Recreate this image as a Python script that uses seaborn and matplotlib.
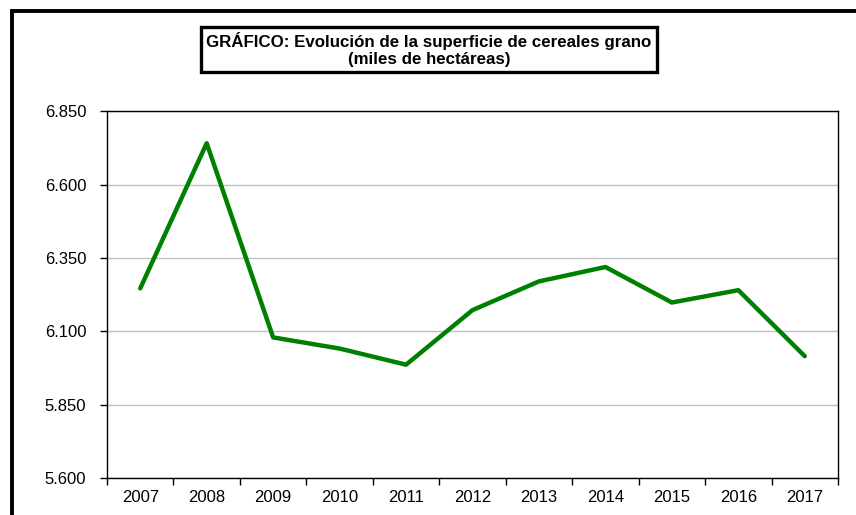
import seaborn as sns
import pandas as pd
import matplotlib.pyplot as plt
from matplotlib.patches import Rectangle
from matplotlib.ticker import FuncFormatter, FixedLocator

# datos (miles de hectareas)
anios = ["2007", "2008", "2009", "2010", "2011", "2012", "2013", "2014", "2015", "2016", "2017"]
superficie = [6246, 6741, 6079, 6041, 5986, 6172, 6270, 6319, 6198, 6240, 6015]

df = pd.DataFrame({"pos": range(len(anios)), "anio": anios, "superficie": superficie})

sns.set_theme(style="white")
plt.rcParams["font.family"] = ["Liberation Sans", "DejaVu Sans"]

fig = plt.figure(figsize=(8.56, 5.15), dpi=100)
ax = fig.add_axes([0.125, 0.072, 0.854, 0.712])

sns.lineplot(data=df, x="pos", y="superficie", color="#008000", linewidth=3.2, ax=ax)

ax.set_xlim(-0.5, len(anios) - 0.5)
ax.set_ylim(5600, 6850)
ax.set_yticks([5600, 5850, 6100, 6350, 6600, 6850])
ax.yaxis.set_major_formatter(FuncFormatter(lambda v, p: f"{int(v):,}".replace(",", ".")))
ax.set_xticks(df["pos"])
ax.set_xticklabels(anios)
ax.xaxis.set_minor_locator(FixedLocator([i - 0.5 for i in range(len(anios) + 1)]))
ax.tick_params(axis="x", which="major", length=0, pad=9, labelsize=12, colors="black")
ax.tick_params(axis="x", which="minor", length=5, width=1, color="black", direction="out", bottom=True)
ax.tick_params(axis="y", length=5, width=1, color="black", direction="out", left=True, labelsize=12, colors="black", pad=10)
ax.set_xlabel("")
ax.set_ylabel("")
ax.grid(axis="y", color="#c0c0c0", linewidth=1)
ax.set_axisbelow(True)
for s in ax.spines.values():
    s.set_color("black")
    s.set_linewidth(1)

# titulo con recuadro
fig.text(0.501, 0.904, "GRÁFICO: Evolución de la superficie de cereales grano\n(miles de hectáreas)",
         ha="center", va="center", fontsize=12.2, fontweight="bold", linespacing=1.15, color="black",
         bbox=dict(boxstyle="square,pad=0.3", facecolor="white", edgecolor="black", linewidth=2.4))

# marco exterior
fig.patches.append(Rectangle((12 / 856, -0.1), 1.2, 1.1 - 11 / 515, transform=fig.transFigure,
                             fill=False, edgecolor="black", linewidth=2.8))

fig.savefig("out.png", dpi=100)
